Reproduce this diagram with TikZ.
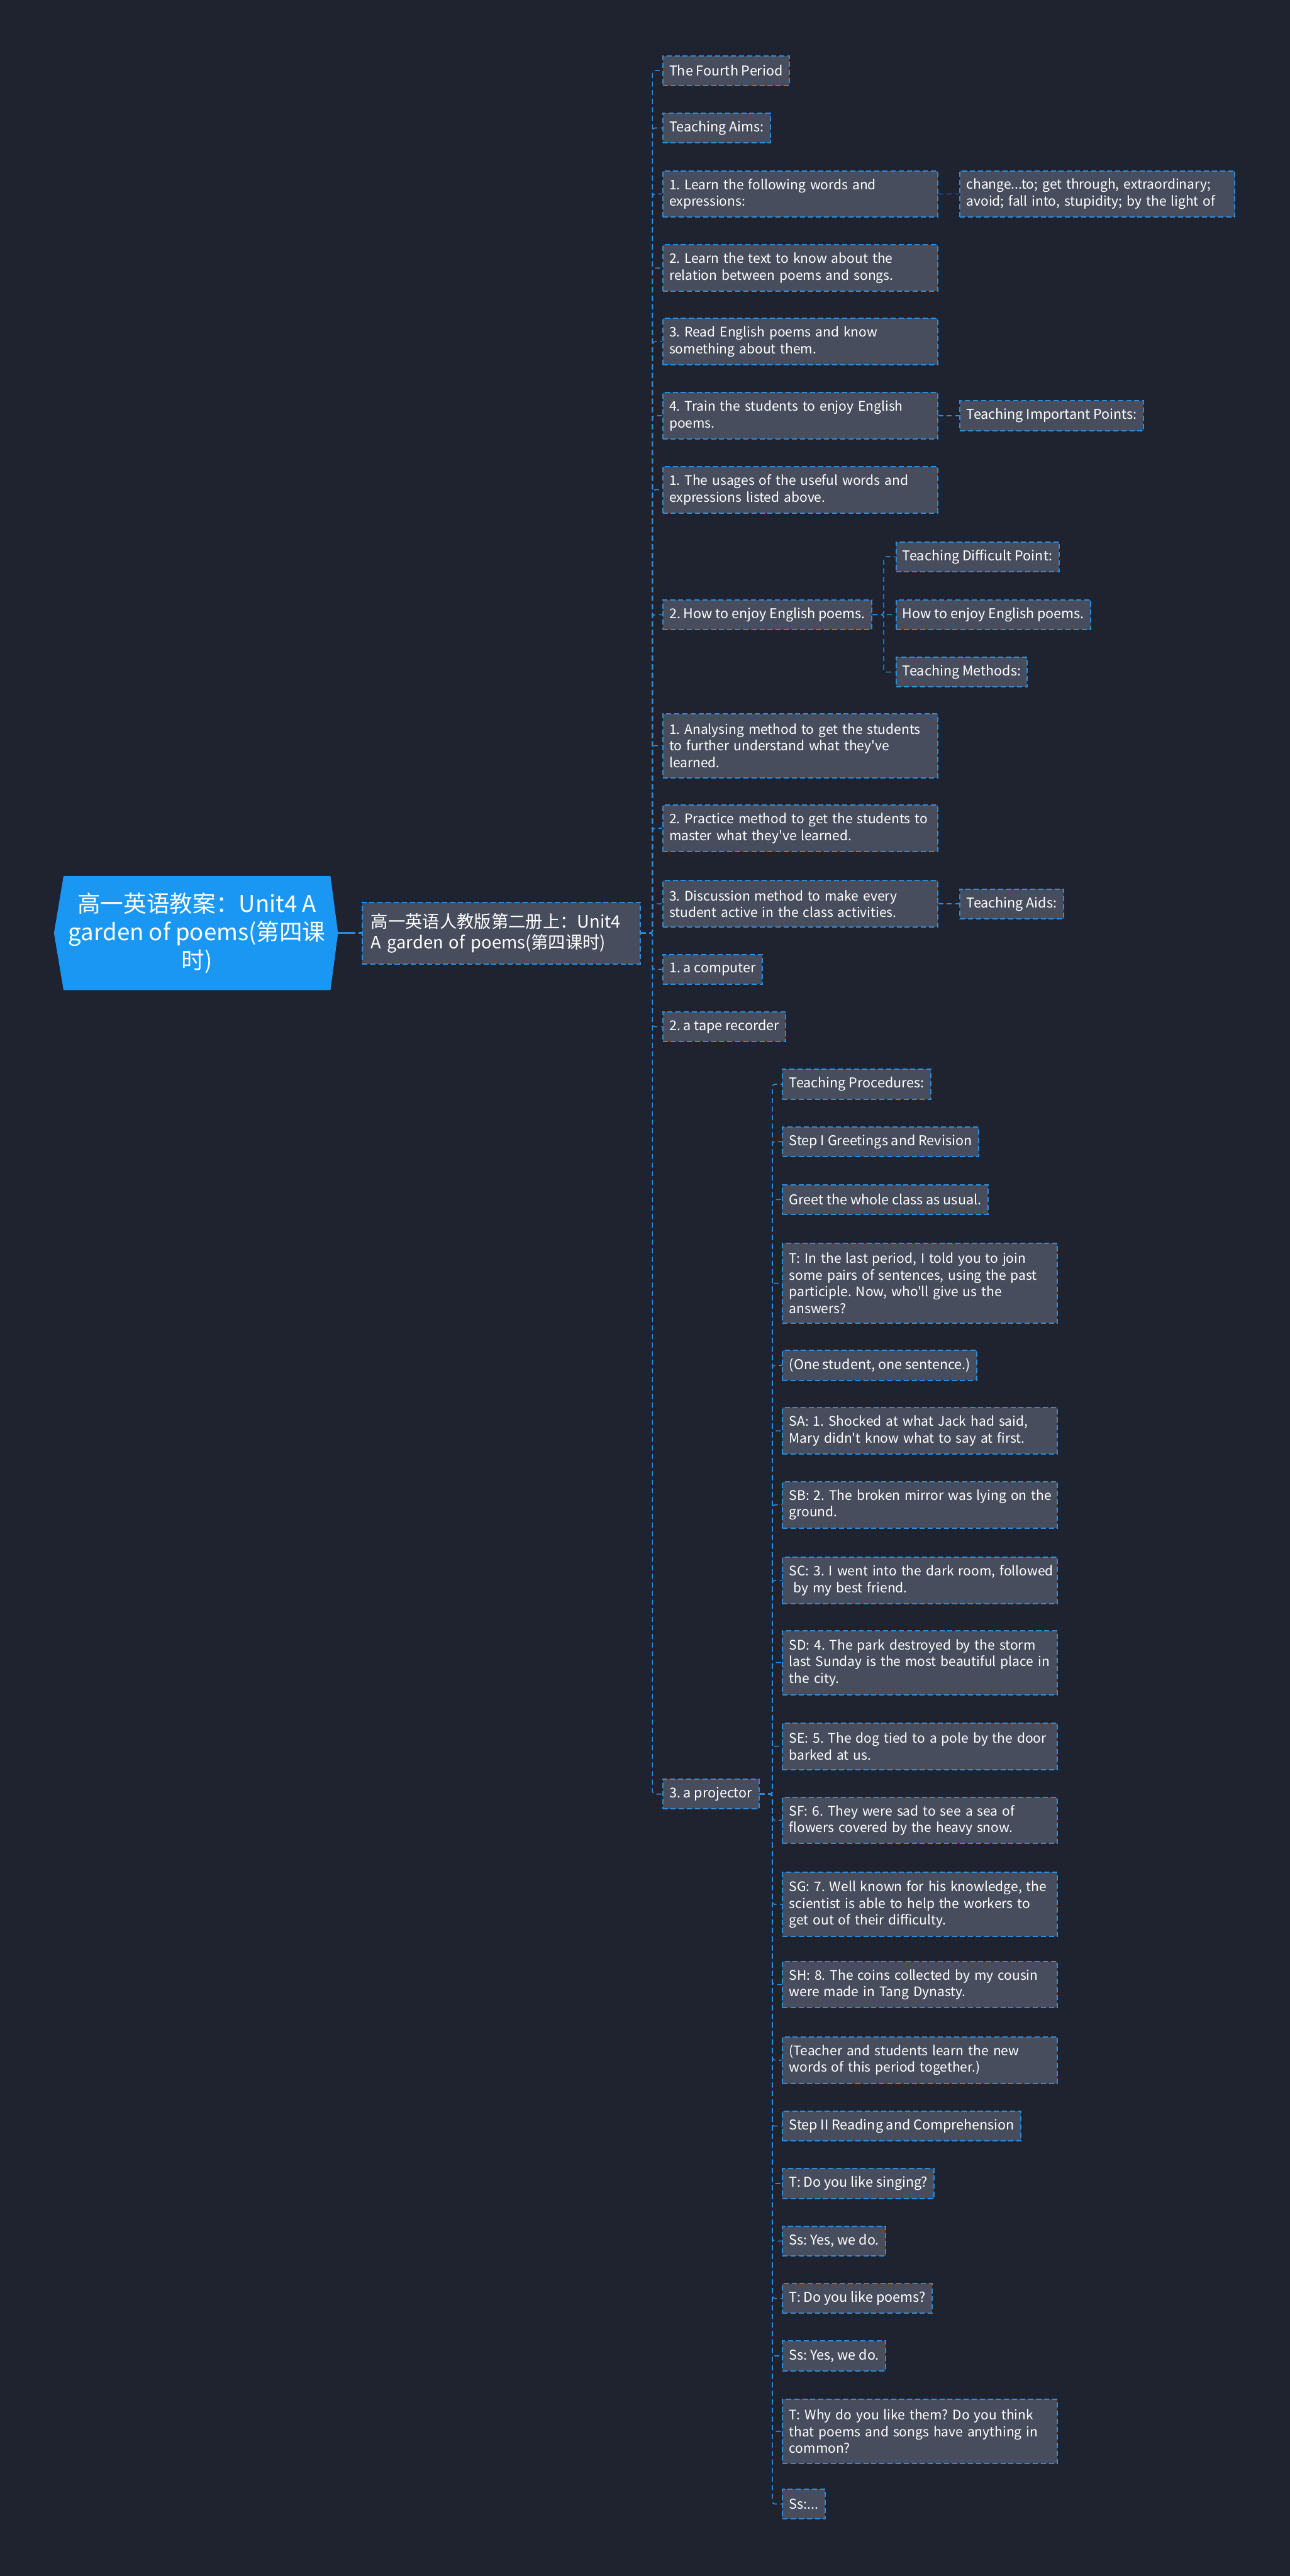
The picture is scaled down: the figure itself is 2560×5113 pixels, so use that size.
\documentclass[tikz,border=0pt]{standalone}
\usepackage{fontspec}
\setmainfont[Ligatures=TeXOff]{Noto Sans CJK SC}
\usetikzlibrary{calc}
\pgfdeclarelayer{bg}
\pgfsetlayers{bg,main}
\definecolor{bgc}{HTML}{1F2330}
\definecolor{nodec}{HTML}{474D5D}
\definecolor{bordc}{HTML}{2A8CDC}
\definecolor{linec}{HTML}{2A8CDC}
\definecolor{rootc}{HTML}{1A97F2}
\frenchspacing
\newcommand{\leaffnt}{\fontsize{7.65}{9.4}\selectfont\frenchspacing}
\newcommand{\widefnt}{\fontsize{7.45}{9.4}\selectfont\frenchspacing}
\begin{document}
\begin{tikzpicture}[x=0.01cm,y=-0.01cm,
  leaf/.style={draw=bordc, fill=nodec, line width=0.025cm, dash pattern=on 0.1cm off 0.06cm,
    text=white, font=\leaffnt,
    inner xsep=0.13cm, inner ysep=0pt,
    anchor=west, minimum height=0.59cm},
  wide/.style={text width=5.19cm, align=left, font=\widefnt},
  htwo/.style={minimum height=0.92cm},
  hthree/.style={minimum height=1.27cm},
  hfour/.style={minimum height=1.59cm},
  conn/.style={draw=linec, line width=0.02cm, dash pattern=on 0.1cm off 0.07cm, rounded corners=0.05cm},
  rootnode/.style={text=white, font=\fontsize{13}{16}\selectfont, align=center,
    minimum width=5.28cm, minimum height=2.25cm, inner sep=0pt},
  lonenode/.style={leaf, font=\fontsize{9.7}{11.9}\selectfont, inner xsep=0.17cm,
    text width=5.17cm, align=left, minimum height=1.22cm},
  rootline/.style={draw=linec, line width=0.04cm, dash pattern=on 0.35cm off 0.06cm}
]
\begin{pgfonlayer}{bg}
\fill[bgc] (0,0) rectangle (2560,5113);
\end{pgfonlayer}

% root
\node[rootnode] (root) at (391,1852) {高一英语教案：Unit4 A\\garden of poems(第四课\\时)};
\begin{pgfonlayer}{bg}
\fill[rootc] (root.north west) -- (root.north east) -- ($(root.east)+(15,0)$) -- (root.south east)
  -- (root.south west) -- ($(root.west)+(-19,0)$) -- cycle;
\end{pgfonlayer}

% level 1
\node[lonenode] (L1) at (718,1852) {\mbox{高一英语人教版第二册上：Unit4}\\\mbox{A garden of poems(第四课时)}};
\draw[rootline] ($(root.east)+(15,0)$) -- (L1.west);

% level 2
\node[leaf] (c1) at (1314,140) {The Fourth Period};
\node[leaf] (c2) at (1314,254) {Teaching Aims:};
\node[leaf,wide,htwo] (c3) at (1314,385) {\mbox{1. Learn the following words and}\\\mbox{expressions:}};
\node[leaf,wide,htwo] (c3a) at (1904,385) {\mbox{change...to; get through, extraordinary;}\\\mbox{avoid; fall into, stupidity; by the light of}};
\node[leaf,wide,htwo] (c4) at (1314,532) {\mbox{2. Learn the text to know about the}\\\mbox{relation between poems and songs.}};
\node[leaf,wide,htwo] (c5) at (1314,678) {\mbox{3. Read English poems and know}\\\mbox{something about them.}};
\node[leaf,wide,htwo] (c6) at (1314,825) {\mbox{4. Train the students to enjoy English}\\\mbox{poems.}};
\node[leaf] (c6a) at (1904,825) {Teaching Important Points:};
\node[leaf,wide,htwo] (c7) at (1314,972) {\mbox{1. The usages of the useful words and}\\\mbox{expressions listed above.}};
\node[leaf] (c8) at (1314,1220) {2. How to enjoy English poems.};
\node[leaf] (d1) at (1777,1105) {Teaching Difficult Point:};
\node[leaf] (d2) at (1777,1220) {How to enjoy English poems.};
\node[leaf] (d3) at (1777,1334) {Teaching Methods:};
\node[leaf,wide,hthree] (c9) at (1314,1480) {\mbox{1. Analysing method to get the students}\\\mbox{to further understand what they've}\\\mbox{learned.}};
\node[leaf,wide,htwo] (c10) at (1314,1644) {\mbox{2. Practice method to get the students to}\\\mbox{master what they've learned.}};
\node[leaf,wide,htwo] (c11) at (1314,1794) {\mbox{3. Discussion method to make every}\\\mbox{student active in the class activities.}};
\node[leaf] (c11a) at (1904,1794) {Teaching Aids:};
\node[leaf] (c12) at (1314,1924) {1. a computer};
\node[leaf] (c13) at (1314,2038) {2. a tape recorder};
\node[leaf] (c14) at (1314,3561) {3. a projector};

% projector children
\node[leaf] (p1) at (1552,2152) {Teaching Procedures:};
\node[leaf] (p2) at (1552,2266) {Step I Greetings and Revision};
\node[leaf] (p3) at (1552,2381) {Greet the whole class as usual.};
\node[leaf,wide,hfour] (p4) at (1552,2547) {\mbox{T: In the last period, I told you to join}\\\mbox{some pairs of sentences, using the past}\\\mbox{participle. Now, who'll give us the}\\\mbox{answers?}};
\node[leaf] (p5) at (1552,2710) {(One student, one sentence.)};
\node[leaf,wide,htwo] (p6) at (1552,2840) {\mbox{SA: 1. Shocked at what Jack had said,}\\\mbox{Mary didn't know what to say at first.}};
\node[leaf,wide,htwo] (p7) at (1552,2987) {\mbox{SB: 2. The broken mirror was lying on the}\\\mbox{ground.}};
\node[leaf,wide,htwo] (p8) at (1552,3137) {\mbox{SC: 3. I went into the dark room, followed}\\\mbox{\ by my best friend.}};
\node[leaf,wide,hthree] (p9) at (1552,3300) {\mbox{SD: 4. The park destroyed by the storm}\\\mbox{last Sunday is the most beautiful place in}\\\mbox{the city.}};
\node[leaf,wide,htwo] (p10) at (1552,3466) {\mbox{SE: 5. The dog tied to a pole by the door}\\\mbox{barked at us.}};
\node[leaf,wide,htwo] (p11) at (1552,3613) {\mbox{SF: 6. They were sad to see a sea of}\\\mbox{flowers covered by the heavy snow.}};
\node[leaf,wide,hthree] (p12) at (1552,3780) {\mbox{SG: 7. Well known for his knowledge, the}\\\mbox{scientist is able to help the workers to}\\\mbox{get out of their difficulty.}};
\node[leaf,wide,htwo] (p13) at (1552,3939) {\mbox{SH: 8. The coins collected by my cousin}\\\mbox{were made in Tang Dynasty.}};
\node[leaf,wide,htwo] (p14) at (1552,4089) {\mbox{(Teacher and students learn the new}\\\mbox{words of this period together.)}};
\node[leaf] (p15) at (1552,4220) {Step II Reading and Comprehension};
\node[leaf] (p16) at (1552,4334) {T: Do you like singing?};
\node[leaf] (p17) at (1552,4448) {Ss: Yes, we do.};
\node[leaf] (p18) at (1552,4562) {T: Do you like poems?};
\node[leaf] (p19) at (1552,4676) {Ss: Yes, we do.};
\node[leaf,wide,hthree] (p20) at (1552,4826) {\mbox{T: Why do you like them? Do you think}\\\mbox{that poems and songs have anything in}\\\mbox{common?}};
\node[leaf] (p21) at (1552,4970) {Ss:...};

% connectors
\coordinate (s1) at (1295,1852);
\foreach \n in {c1,c2,c3,c4,c5,c6,c7,c8,c9,c10,c11,c12,c13,c14}
  \draw[conn] (L1.east) -- (s1) |- (\n.west);
\draw[conn] (c3.east) -- (c3a.west);
\draw[conn] (c6.east) -- (c6a.west);
\draw[conn] (c11.east) -- (c11a.west);
\coordinate (s8) at (1754,1220);
\foreach \n in {d1,d2,d3}
  \draw[conn] (c8.east) -- (s8) |- (\n.west);
\coordinate (s14) at (1533,3561);
\foreach \n in {p1,p2,p3,p4,p5,p6,p7,p8,p9,p10,p11,p12,p13,p14,p15,p16,p17,p18,p19,p20,p21}
  \draw[conn] (c14.east) -- (s14) |- (\n.west);
\end{tikzpicture}
\end{document}
